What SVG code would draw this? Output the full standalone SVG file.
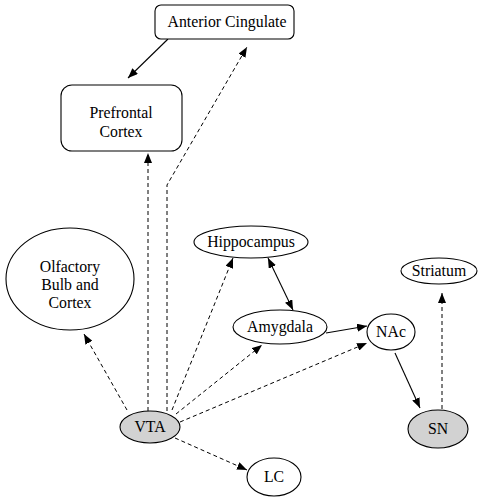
<svg xmlns="http://www.w3.org/2000/svg" width="479" height="499" viewBox="0 0 479 499">
<style>
.n{fill:#fff;stroke:#000;stroke-width:1.1}
.g{fill:#d2d2d2;stroke:#000;stroke-width:1.1}
.t{font-family:"Liberation Serif","Times New Roman",serif;font-size:15.8px;fill:#000;text-anchor:middle}
.s{fill:none;stroke:#000;stroke-width:1.1;marker-end:url(#a)}
.d{fill:none;stroke:#000;stroke-width:1;stroke-dasharray:4 3;marker-end:url(#a)}
</style>
<defs>
<marker id="a" markerUnits="userSpaceOnUse" markerWidth="10" markerHeight="8" refX="10" refY="4" orient="auto-start-reverse">
<path d="M0,0 L10,4 L0,8 z" fill="#000"/>
</marker>
</defs>
<g id="connectors">
<path class="s" d="M168,39 L128,78"/>
<path class="d" d="M148,411 L148,153"/>
<path class="d" d="M167,411 L167,185 L247,47"/>
<path class="d" d="M127,410 L84,334"/>
<path class="d" d="M172,410 L233,258"/>
<path class="d" d="M176,414 L262,345"/>
<path class="d" d="M180,422 L367,343"/>
<path class="d" d="M175,438 L247,470"/>
<path class="s" d="M268,258 L293,310" marker-start="url(#a)"/>
<path class="s" d="M326,333 L367,326"/>
<path class="s" d="M395,353 L420,408"/>
<path class="d" d="M442,409 L442,293"/>
</g>
<g id="anterior-cingulate">
<rect class="n" x="155" y="5" width="139" height="34" rx="6"/>
<text class="t" x="227" y="27">Anterior Cingulate</text>
</g>
<g id="prefrontal-cortex">
<rect class="n" x="61" y="85" width="121" height="66" rx="11"/>
<text class="t" x="121" y="118">Prefrontal</text>
<text class="t" x="121" y="137">Cortex</text>
</g>
<g id="olfactory">
<ellipse class="n" cx="70" cy="279" rx="64" ry="51"/>
<text class="t" x="70" y="272">Olfactory</text>
<text class="t" x="70" y="290">Bulb and</text>
<text class="t" x="70" y="308">Cortex</text>
</g>
<g id="hippocampus">
<ellipse class="n" cx="251" cy="242" rx="57" ry="16"/>
<text class="t" x="251" y="247">Hippocampus</text>
</g>
<g id="amygdala">
<ellipse class="n" cx="280" cy="327" rx="47" ry="17"/>
<text class="t" x="280" y="332">Amygdala</text>
</g>
<g id="nac">
<ellipse class="n" cx="391" cy="332" rx="24" ry="18"/>
<text class="t" x="391" y="337">NAc</text>
</g>
<g id="striatum">
<ellipse class="n" cx="439" cy="271" rx="38" ry="13"/>
<text class="t" x="439" y="276">Striatum</text>
</g>
<g id="sn">
<ellipse class="g" cx="438" cy="429" rx="30" ry="19"/>
<text class="t" x="438" y="434">SN</text>
</g>
<g id="vta">
<ellipse class="g" cx="150" cy="427" rx="30" ry="16"/>
<text class="t" x="150" y="432">VTA</text>
</g>
<g id="lc">
<ellipse class="n" cx="274" cy="477" rx="27" ry="19"/>
<text class="t" x="274" y="482">LC</text>
</g>
</svg>
